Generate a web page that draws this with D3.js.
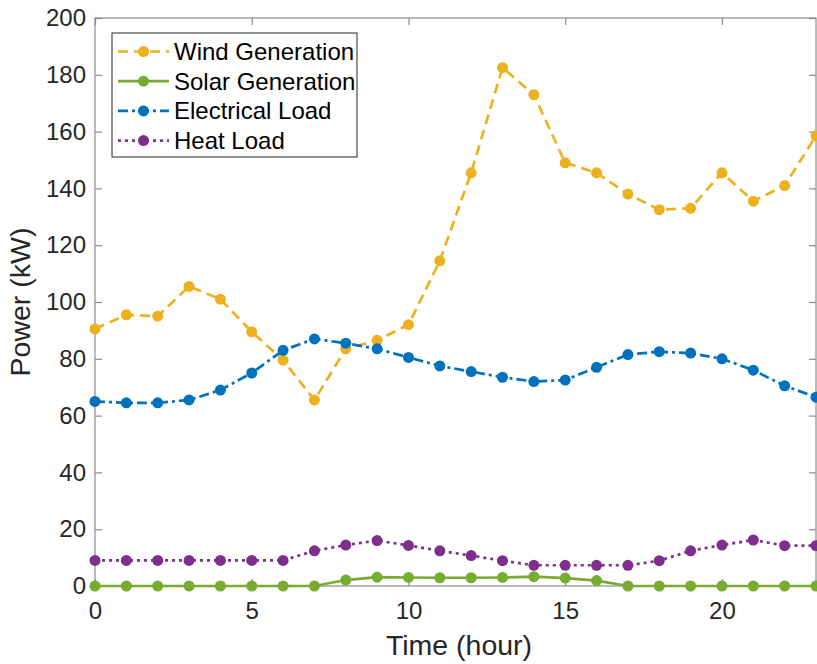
<!DOCTYPE html>
<html><head><meta charset="utf-8">
<script src="https://cdn.jsdelivr.net/npm/d3@7"></script>
<style>body{margin:0;background:#fff;} svg{display:block;font-family:"Liberation Sans",Arial,sans-serif;}</style>
</head><body>
<svg id="c" width="817" height="664"></svg>
<script>
const hours = d3.range(0, 24);
const wind = [90.5,95.5,95,105.5,101,89.5,79.5,65.5,83.5,86.5,92,114.5,145.5,182.5,173,149,145.5,138,132.5,133,145.5,135.5,141,158.5];
const solar = [0,0,0,0,0,0,0,0,2.1,3.1,3,2.9,2.9,3,3.3,2.8,1.9,0,0,0,0,0,0,0];
const elec = [65,64.5,64.5,65.5,69,75,83,87,85.5,83.5,80.5,77.5,75.5,73.5,72,72.5,77,81.5,82.5,82,80,76,70.5,66.5];
const heat = [9,9,9,9,9,9,9,12.4,14.4,16,14.3,12.4,10.7,8.9,7.3,7.3,7.3,7.3,8.9,12.4,14.4,16.2,14.2,14.2];
const xTicks = [0,5,10,15,20];
const yTicks = [0,20,40,60,80,100,120,140,160,180,200];
const seriesNames = ["Wind Generation","Solar Generation","Electrical Load","Heat Load"];
const seriesColors = ["#EDB120","#77AC30","#0072BD","#7E2F8E"];
const seriesDash = ["10,6","none","10,4,3,4","3,4"];

const svg = d3.select("#c");
const L=95, T=18, R=816, B=586;
const x = d3.scaleLinear().domain([0,23]).range([L,R]);
const y = d3.scaleLinear().domain([0,200]).range([B,T]);
const axisCol = "#8c8c8c", txt = "#262626";

svg.append("rect").attr("x",L).attr("y",T).attr("width",R-L).attr("height",B-T)
  .attr("fill","none").attr("stroke",axisCol).attr("stroke-width",1.2);

const xa = svg.append("g").attr("transform",`translate(0,${B})`)
  .call(d3.axisBottom(x).tickValues(xTicks).tickSize(-7).tickPadding(16).tickFormat(d3.format("d")));
const xa2 = svg.append("g").attr("transform",`translate(0,${T})`)
  .call(d3.axisTop(x).tickValues(xTicks).tickSize(-7).tickFormat(""));
const ya = svg.append("g").attr("transform",`translate(${L},0)`)
  .call(d3.axisLeft(y).tickValues(yTicks).tickSize(-7).tickPadding(9).tickFormat(d3.format("d")));
const ya2 = svg.append("g").attr("transform",`translate(${R},0)`)
  .call(d3.axisRight(y).tickValues(yTicks).tickSize(-7).tickFormat(""));
[xa,xa2,ya,ya2].forEach(g=>{
  g.select(".domain").remove();
  g.selectAll(".tick line").attr("stroke",axisCol).attr("stroke-width",1.2);
  g.selectAll("text").attr("fill",txt).attr("font-size",24).attr("font-family","Liberation Sans,Arial,sans-serif");
});

svg.append("text").attr("x",459).attr("y",655).attr("text-anchor","middle")
  .attr("font-size",28.5).attr("fill",txt).text("Time (hour)");
svg.append("text").attr("transform",`translate(30,${(T+B)/2}) rotate(-90)`).attr("text-anchor","middle")
  .attr("font-size",28.5).attr("fill",txt).text("Power (kW)");

const data = [wind, solar, elec, heat];
const line = d3.line().x((d,i)=>x(hours[i])).y(d=>y(d));
data.forEach((arr,k)=>{
  const g = svg.append("g");
  g.append("path").datum(arr).attr("d",line).attr("fill","none")
    .attr("stroke",seriesColors[k]).attr("stroke-width",2.7).attr("stroke-dasharray",seriesDash[k]);
  g.selectAll("circle").data(arr).join("circle")
    .attr("cx",(d,i)=>x(hours[i])).attr("cy",d=>y(d)).attr("r",5.5).attr("fill",seriesColors[k]);
});

const lg = svg.append("g");
lg.append("rect").attr("x",112).attr("y",33).attr("width",245).attr("height",124)
  .attr("fill","#fff").attr("stroke","#262626").attr("stroke-width",1);
seriesNames.forEach((n,k)=>{
  const yy = 51.5 + k*29.7;
  lg.append("line").attr("x1",118).attr("x2",169).attr("y1",yy).attr("y2",yy)
    .attr("stroke",seriesColors[k]).attr("stroke-width",2.7).attr("stroke-dasharray",seriesDash[k]);
  lg.append("circle").attr("cx",143.5).attr("cy",yy).attr("r",5.5).attr("fill",seriesColors[k]);
  lg.append("text").attr("x",174).attr("y",yy+8.5).attr("font-size",24).attr("fill","#000").text(n);
});
</script>
</body></html>
